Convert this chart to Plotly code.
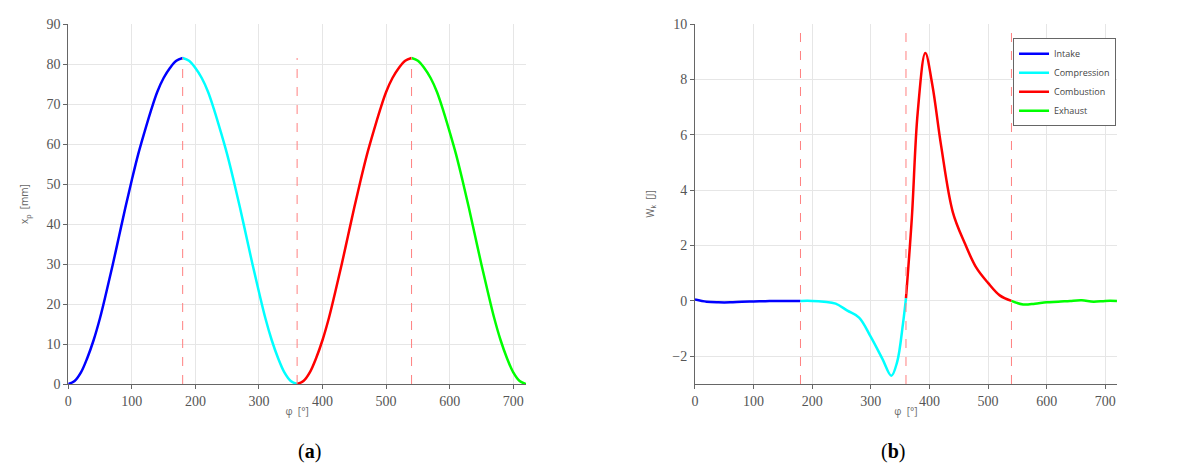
import plotly.graph_objects as go

# piston displacement x_p [mm], read every 10 deg per stroke
phi_half = [0, 10, 20, 30, 40, 50, 60, 70, 80, 90, 100, 110, 120, 130, 140, 150, 160, 170, 180]
xp_up = [0, 0.75, 2.9, 6.5, 11.0, 16.5, 23.0, 29.8, 37.0, 44.2, 51.0, 57.4, 63.0, 68.3, 73.0,
         76.5, 79.0, 80.8, 81.5]
xp_down = xp_up[::-1]

# work W_k [J] per phase
phi_intake = [0, 20, 40, 60, 80, 100, 120, 140, 160, 180]
w_intake = [0.05, -0.03, -0.05, -0.05, -0.03, -0.02, -0.01, 0.0, 0.0, 0.0]
phi_comp = [180, 200, 220, 240, 260, 280, 300, 320, 335, 345, 355, 360]
w_comp = [0.0, 0.0, -0.03, -0.1, -0.35, -0.6, -1.3, -2.1, -2.7, -2.2, -0.8, 0.1]
phi_comb = [360, 370, 380, 393, 405, 420, 440, 460, 480, 500, 520, 540]
w_comb = [0.1, 3.0, 6.8, 8.95, 7.8, 5.6, 3.2, 2.1, 1.2, 0.65, 0.2, 0.0]
phi_exh = [540, 560, 580, 600, 620, 640, 660, 680, 700, 720]
w_exh = [0.0, -0.13, -0.1, -0.05, -0.03, 0.0, 0.02, -0.03, 0.0, 0.0]

names = ["Intake", "Compression", "Combustion", "Exhaust"]
colors = ["#0000ff", "#00ffff", "#ff0000", "#00ff00"]
offsets = [0, 180, 360, 540]
xp_sets = [xp_up, xp_down, xp_up, xp_down]
w_sets = [(phi_intake, w_intake), (phi_comp, w_comp), (phi_comb, w_comb), (phi_exh, w_exh)]

fig = go.Figure()
for i in range(4):
    fig.add_trace(go.Scatter(x=[p + offsets[i] for p in phi_half], y=xp_sets[i], mode="lines",
                             line=dict(color=colors[i], width=2.5, shape="spline"),
                             showlegend=False, xaxis="x", yaxis="y"))
    fig.add_trace(go.Scatter(x=w_sets[i][0], y=w_sets[i][1], mode="lines", name=names[i],
                             line=dict(color=colors[i], width=2.5, shape="spline"),
                             xaxis="x2", yaxis="y2"))

for v in [180, 360, 540]:
    fig.add_shape(type="line", x0=v, x1=v, y0=0, y1=81.5, xref="x", yref="y",
                  line=dict(color="#ff8080", width=1, dash="dash"))
    fig.add_shape(type="line", x0=v, x1=v, y0=-3, y1=10, xref="x2", yref="y2",
                  line=dict(color="#ff8080", width=1, dash="dash"))

tickfont = dict(family="Liberation Serif, serif", size=14, color="#555")
ax = dict(showgrid=True, gridcolor="#e6e6e6", showline=True, linecolor="#666", ticks="outside",
          ticklen=4, tickcolor="#666", zeroline=False, tickfont=tickfont, mirror=False,
          automargin=False)
tfont = dict(size=10, color="#666")

fig.update_layout(
    width=1181, height=471, margin=dict(l=0, r=0, t=0, b=0, autoexpand=False),
    plot_bgcolor="white", paper_bgcolor="white",
    xaxis=dict(ax, domain=[0.051, 0.4386], range=[0, 720], dtick=100,
               title=dict(text="φ  [°]", font=tfont, standoff=0)),
    yaxis=dict(ax, domain=[0.2017, 0.966], range=[0, 90], dtick=10,
               title=dict(text="x<sub>p</sub>  [mm]", font=tfont)),
    xaxis2=dict(ax, domain=[0.5817, 0.939], range=[0, 720], dtick=100, anchor="y2",
                title=dict(text="φ  [°]", font=tfont, standoff=0)),
    yaxis2=dict(ax, domain=[0.2017, 0.966], range=[-3, 10], dtick=2, anchor="x2",
                title=dict(text="W<sub>k</sub>  [J]", font=tfont)),
    legend=dict(x=0.851, y=0.936, xanchor="left", yanchor="top", bgcolor="white",
                bordercolor="#666", borderwidth=1, font=dict(size=9, color="#444")),
    annotations=[
        dict(text="(<b>a</b>)", x=0.244, y=0.03, xref="paper", yref="paper", showarrow=False,
             font=dict(family="Liberation Serif, serif", size=20, color="black")),
        dict(text="(<b>b</b>)", x=0.761, y=0.03, xref="paper", yref="paper", showarrow=False,
             font=dict(family="Liberation Serif, serif", size=20, color="black")),
    ],
)

fig.write_html("out.html")
